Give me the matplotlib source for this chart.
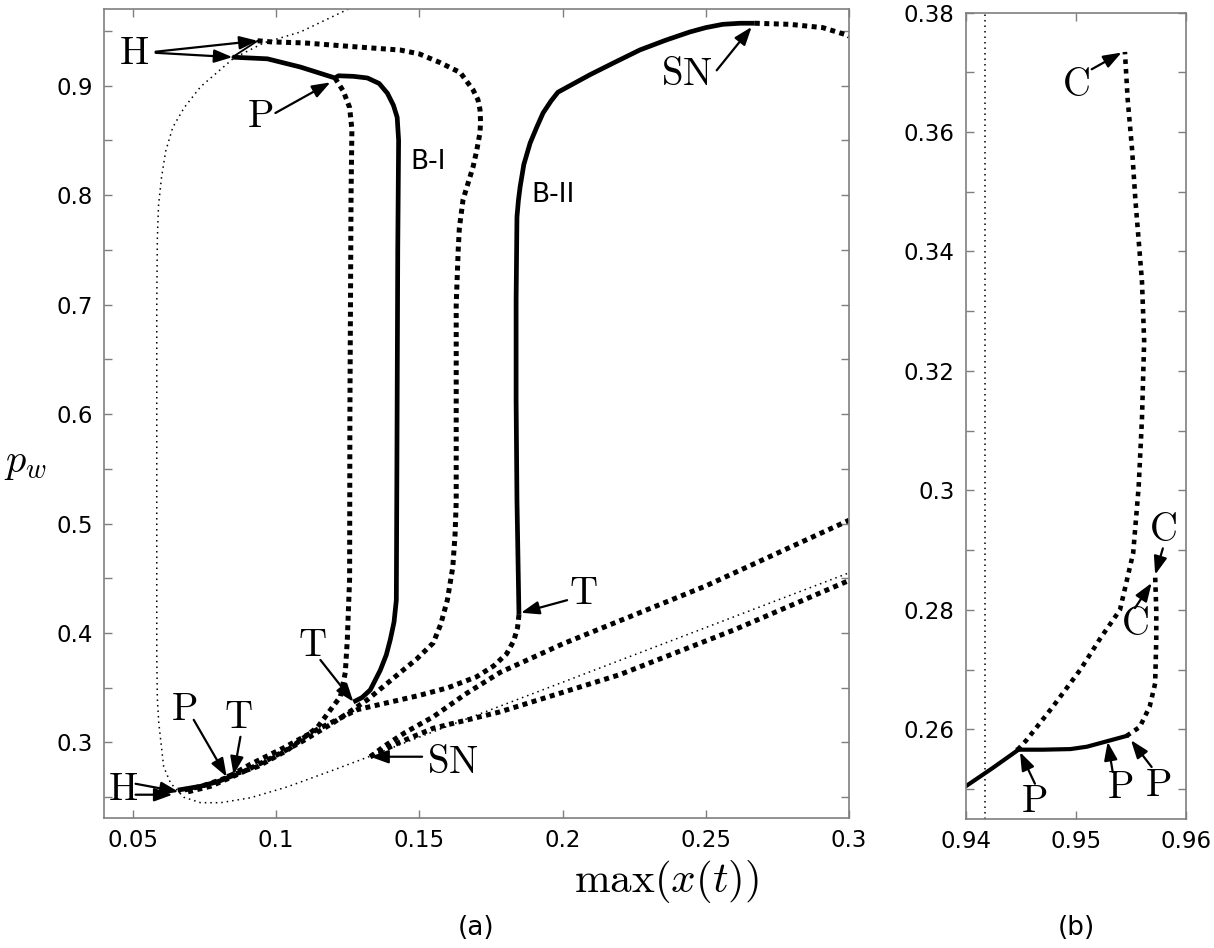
import matplotlib
matplotlib.use('Agg')
import matplotlib.pyplot as plt
from matplotlib.ticker import FixedLocator

plt.rcParams['mathtext.fontset'] = 'cm'
plt.rcParams['font.family'] = ['DejaVu Sans']

# ---------------- panel (a) data: p_w versus max(x(t)) ----------------
# thin dotted curve (equilibria)
eq_x = [0.1253, 0.1085, 0.0957, 0.0852, 0.0737, 0.0680, 0.0640, 0.0615, 0.0600, 0.0590, 0.0586,
        0.0584, 0.0584, 0.0584, 0.0586, 0.0591, 0.0608, 0.0632, 0.0678, 0.0737, 0.0807, 0.0911,
        0.1040, 0.1200, 0.1319, 0.1600, 0.2000, 0.2500, 0.3000]
eq_p = [0.970, 0.949, 0.939, 0.925, 0.899, 0.880, 0.862, 0.840, 0.815, 0.790, 0.760,
        0.700, 0.500, 0.380, 0.340, 0.318, 0.278, 0.263, 0.250, 0.245, 0.245, 0.2495,
        0.2595, 0.2748, 0.2865, 0.315, 0.355, 0.405, 0.455]

# B-I stable branch (solid)
b1_x = [0.0848, 0.0970, 0.1085, 0.1206, 0.1218, 0.1270, 0.1319, 0.1360, 0.1389, 0.1410, 0.1423,
        0.1428, 0.1425, 0.1422, 0.1420, 0.1412, 0.1399, 0.1385, 0.1364, 0.1329, 0.1300, 0.1270]
b1_p = [0.926, 0.9245, 0.917, 0.907, 0.909, 0.9085, 0.907, 0.902, 0.893, 0.882, 0.871,
        0.850, 0.750, 0.550, 0.430, 0.410, 0.394, 0.380, 0.366, 0.348, 0.341, 0.337]

# B-II stable branch (solid)
b2_x = [0.1848, 0.1841, 0.1838, 0.1838, 0.1841, 0.1846, 0.1852, 0.1865, 0.1887, 0.1910, 0.1932,
        0.1960, 0.1984, 0.2096, 0.2180, 0.2270, 0.2360, 0.2444, 0.2500, 0.2559, 0.2620, 0.2671]
b2_p = [0.4166, 0.5217, 0.613, 0.704, 0.780, 0.795, 0.8075, 0.828, 0.8476, 0.862, 0.875,
        0.886, 0.894, 0.910, 0.921, 0.9326, 0.9415, 0.949, 0.953, 0.956, 0.957, 0.957]

# short solid pieces
hh_x = [0.0848, 0.0936]
hh_p = [0.926, 0.941]
low_x = [0.0657, 0.0737, 0.0800, 0.0852]
low_p = [0.2565, 0.2600, 0.2645, 0.2700]

# unstable branches (thick dotted)
top_x = [0.2671, 0.2793, 0.2908, 0.2995, 0.3000]
top_p = [0.957, 0.956, 0.953, 0.946, 0.945]

inner_x = [0.1206, 0.1235, 0.1257, 0.1265, 0.1262, 0.1258, 0.1257, 0.1249, 0.1242, 0.1225,
           0.1145, 0.1040, 0.0936, 0.0828]
inner_p = [0.907, 0.895, 0.880, 0.860, 0.800, 0.600, 0.450, 0.394, 0.364, 0.342,
           0.314, 0.293, 0.278, 0.2687]

outer_x = [0.0936, 0.0981, 0.1100, 0.1250, 0.1434, 0.1500, 0.1573, 0.1643, 0.1688, 0.1705, 0.1712,
           0.1714, 0.1712, 0.1700, 0.1688, 0.1653, 0.1640, 0.1636, 0.1629, 0.1629, 0.1625, 0.1617,
           0.1598, 0.1575, 0.1549, 0.1490, 0.1434, 0.1319, 0.1200, 0.1085, 0.0970, 0.0876, 0.0772,
           0.0678]
outer_p = [0.941, 0.940, 0.939, 0.936, 0.9325, 0.929, 0.921, 0.912, 0.896, 0.887, 0.878,
           0.867, 0.857, 0.840, 0.826, 0.796, 0.770, 0.750, 0.700, 0.520, 0.490, 0.460,
           0.430, 0.408, 0.391, 0.376, 0.364, 0.339, 0.318, 0.300, 0.284, 0.272, 0.260,
           0.254]

b2tail_x = [0.1848, 0.1843, 0.1830, 0.1805, 0.1760, 0.1700, 0.1600, 0.1500, 0.1400, 0.1284, 0.1145,
            0.1026, 0.0910, 0.0830, 0.0740, 0.0660]
b2tail_p = [0.4166, 0.405, 0.393, 0.381, 0.370, 0.360, 0.350, 0.343, 0.337, 0.330, 0.312,
            0.295, 0.280, 0.268, 0.260, 0.2555]

snup_x = [0.1329, 0.1380, 0.1450, 0.1549, 0.1660, 0.1782, 0.2000, 0.2500, 0.3000]
snup_p = [0.287, 0.297, 0.309, 0.3235, 0.344, 0.364, 0.390, 0.443, 0.503]

snlow_x = [0.1329, 0.1430, 0.1549, 0.1782, 0.2200, 0.2600, 0.3000]
snlow_p = [0.287, 0.300, 0.313, 0.328, 0.362, 0.403, 0.448]

# ---------------- panel (b) data ----------------
hopf_b = 0.94176
bs1_x = [0.9400, 0.9424, 0.9447]
bs1_p = [0.2505, 0.2535, 0.2565]
bs2_x = [0.9447, 0.9470, 0.9495, 0.9510, 0.9528, 0.9546]
bs2_p = [0.2566, 0.2566, 0.2567, 0.2571, 0.2580, 0.2589]
bd1_x = [0.9447, 0.9455, 0.9479, 0.9504, 0.9522, 0.9540, 0.9552, 0.9557, 0.9560, 0.9562, 0.9560,
         0.9554, 0.9551, 0.9547, 0.95445]
bd1_p = [0.2566, 0.2582, 0.2638, 0.2700, 0.2752, 0.2800, 0.2895, 0.3006, 0.3120, 0.3250, 0.3350,
         0.3487, 0.3571, 0.3655, 0.3734]
bd2_x = [0.9546, 0.9558, 0.9567, 0.9572, 0.9573, 0.9573, 0.9572]
bd2_p = [0.2589, 0.2604, 0.2638, 0.2677, 0.2750, 0.2800, 0.2856]

# labels: (text, text x, text y, [(tail x, tail y, tip x, tip y), ...])
labels_a = [
    ('H', 0.0503, 0.9295, [(0.0580, 0.931, 0.0936, 0.941), (0.0580, 0.930, 0.0848, 0.926)]),
    ('P', 0.0946, 0.872, [(0.0998, 0.875, 0.1190, 0.903)]),
    ('SN', 0.2434, 0.911, [(0.2538, 0.914, 0.2660, 0.9536)]),
    ('T', 0.2071, 0.4366, [(0.2016, 0.430, 0.1855, 0.4185)]),
    ('T', 0.1127, 0.389, [(0.1155, 0.3754, 0.1270, 0.3372)]),
    ('P', 0.0681, 0.3307, [(0.0713, 0.3207, 0.0828, 0.2687)]),
    ('T', 0.0869, 0.3235, [(0.0876, 0.3052, 0.0852, 0.2705)]),
    ('H', 0.0465, 0.2577, [(0.0510, 0.2623, 0.0660, 0.2550), (0.0510, 0.2523, 0.0639, 0.2523)]),
    ('SN', 0.1618, 0.2824, [(0.1510, 0.287, 0.1329, 0.287)]),
]
labels_b = [
    ('C', 0.9500, 0.3678, [(0.95143, 0.3705, 0.95415, 0.3733)]),
    ('C', 0.9579, 0.2934, [(0.9579, 0.2903, 0.9572, 0.2859)]),
    ('C', 0.95536, 0.2777, [(0.95536, 0.2803, 0.95688, 0.2845)]),
    ('P', 0.94618, 0.2480, [(0.94627, 0.2509, 0.94491, 0.2562)]),
    ('P', 0.9540, 0.2503, [(0.95334, 0.2529, 0.95288, 0.2579)]),
    ('P', 0.95745, 0.2507, [(0.95688, 0.2537, 0.9550, 0.2582)]),
]

SPINE = '#7f7f7f'
THICK_DOT = dict(color='k', lw=3.6, linestyle=(0, (1, 0.9)), dash_capstyle='butt')
THIN_DOT = dict(color='k', lw=1.1, linestyle=(0, (1, 2.6)))
SOLID = dict(color='k', lw=3.4, solid_capstyle='butt', solid_joinstyle='round')
B_DOT = dict(color='k', lw=3.3, linestyle=(0, (1, 1.1)), dash_capstyle='butt')
B_SOLID = dict(color='k', lw=3.0, solid_joinstyle='round')


def style_axes(ax):
    for s in ax.spines.values():
        s.set_color(SPINE)
        s.set_linewidth(1.2)
    ax.tick_params(which='both', direction='in', top=True, right=True, length=5.5,
                   width=1.0, color=SPINE, labelsize=16.5, pad=8)


def put_labels(ax, items):
    for txt, tx, ty, arrows in items:
        ax.text(tx, ty, r'$\mathrm{%s}$' % txt, fontsize=28, ha='center', va='center')
        for x0, y0, x1, y1 in arrows:
            ax.annotate('', xy=(x1, y1), xytext=(x0, y0),
                        arrowprops=dict(arrowstyle='-|>,head_length=0.55,head_width=0.2',
                                        mutation_scale=20, color='k', lw=1.6,
                                        shrinkA=0, shrinkB=0))


fig = plt.figure(figsize=(12.14, 9.48), dpi=100)
ax = fig.add_axes([0.0857, 0.1371, 0.6137, 0.8534])
axb = fig.add_axes([0.7957, 0.1361, 0.1812, 0.8507])

# panel (a)
ax.plot(eq_x, eq_p, **THIN_DOT)
for xs, ps in [(top_x, top_p), (inner_x, inner_p), (outer_x, outer_p),
               (b2tail_x, b2tail_p), (snup_x, snup_p), (snlow_x, snlow_p)]:
    ax.plot(xs, ps, **THICK_DOT)
ax.plot(b1_x, b1_p, **SOLID)
ax.plot(b2_x, b2_p, **SOLID)
ax.plot(low_x, low_p, **SOLID)
ax.plot(hh_x, hh_p, color='k', lw=1.3)

ax.text(0.1531, 0.830, 'B-I', fontsize=19, ha='center', va='center')
ax.text(0.1967, 0.800, 'B-II', fontsize=19, ha='center', va='center')
put_labels(ax, labels_a)

ax.set_xlim(0.04, 0.3)
ax.set_ylim(0.231, 0.970)
ax.xaxis.set_major_locator(FixedLocator([0.05, 0.1, 0.15, 0.2, 0.25, 0.3]))
ax.set_xticklabels(['0.05', '0.1', '0.15', '0.2', '0.25', '0.3'])
ax.yaxis.set_major_locator(FixedLocator([0.3, 0.4, 0.5, 0.6, 0.7, 0.8, 0.9]))
ax.set_yticklabels(['0.3', '0.4', '0.5', '0.6', '0.7', '0.8', '0.9'])
ax.yaxis.set_minor_locator(FixedLocator([0.25, 0.35, 0.45, 0.55, 0.65, 0.75, 0.85, 0.95]))
style_axes(ax)
ax.set_xlabel(r'$\max(x(t))$', fontsize=31)
ax.xaxis.set_label_coords(0.755, -0.05)
ax.set_ylabel(r'$p_w$', fontsize=29, rotation=0)
ax.yaxis.set_label_coords(-0.105, 0.415)

# panel (b)
axb.axvline(hopf_b, **THIN_DOT)
axb.plot(bd1_x, bd1_p, **B_DOT)
axb.plot(bd2_x, bd2_p, **B_DOT)
axb.plot(bs1_x, bs1_p, **B_SOLID)
axb.plot(bs2_x, bs2_p, **B_SOLID)
put_labels(axb, labels_b)

axb.set_xlim(0.94, 0.96)
axb.set_ylim(0.245, 0.38)
axb.xaxis.set_major_locator(FixedLocator([0.94, 0.95, 0.96]))
axb.set_xticklabels(['0.94', '0.95', '0.96'])
axb.yaxis.set_major_locator(FixedLocator([0.26, 0.28, 0.30, 0.32, 0.34, 0.36, 0.38]))
axb.set_yticklabels(['0.26', '0.28', '0.3', '0.32', '0.34', '0.36', '0.38'])
axb.yaxis.set_minor_locator(FixedLocator([0.25, 0.27, 0.29, 0.31, 0.33, 0.35, 0.37]))
style_axes(axb)

fig.text(476 / 1214, 1 - 928 / 948, '(a)', fontsize=19, ha='center', va='center')
fig.text(1076 / 1214, 1 - 928 / 948, '(b)', fontsize=19, ha='center', va='center')

fig.savefig('out.png', dpi=100)
